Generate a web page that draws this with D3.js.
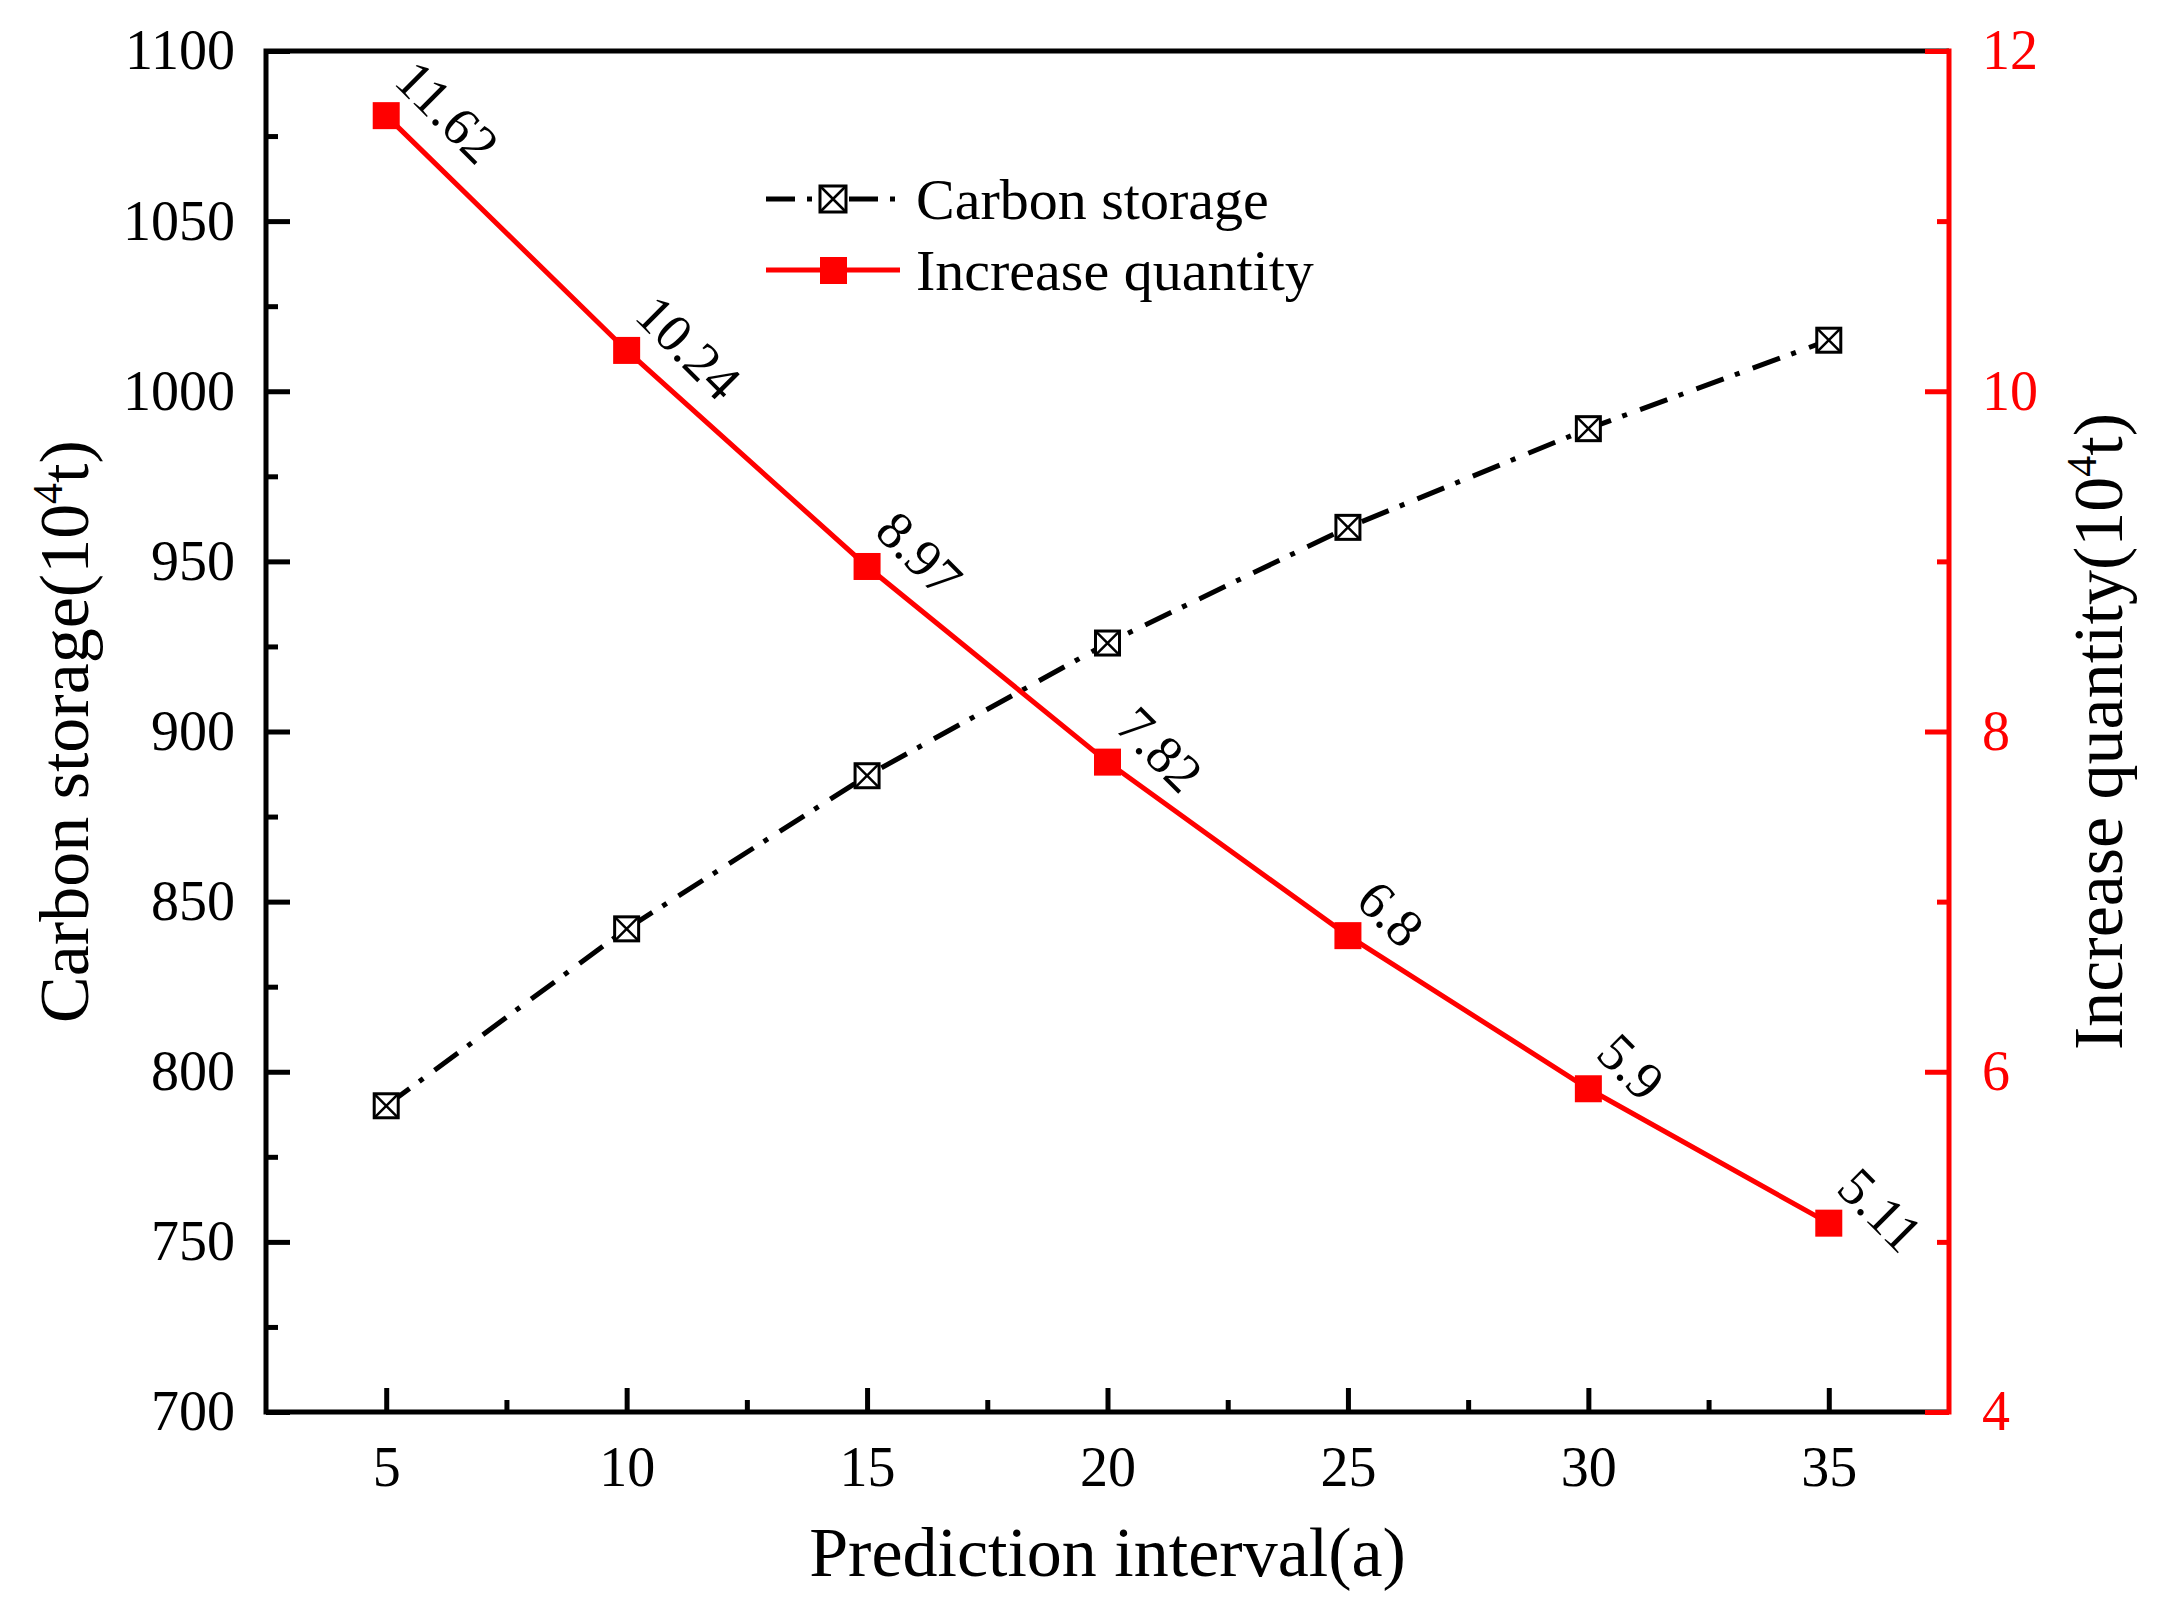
<!DOCTYPE html>
<html>
<head>
<meta charset="utf-8">
<script src="https://cdn.jsdelivr.net/npm/d3@7"></script>
<style>
  body { margin: 0; background: #fff; }
  svg text { font-family: "Times New Roman", "Liberation Serif", "DejaVu Serif", serif !important; }
</style>
</head>
<body>
<svg id="chart" width="2162" height="1612"></svg>
<script>
// chart values
var years = [5, 10, 15, 20, 25, 30, 35];
var carbonStorage = [790, 842, 887, 926, 960, 989, 1015];
var increaseQty = [11.62, 10.24, 8.97, 7.82, 6.8, 5.9, 5.11];
var xTicks = [5, 10, 15, 20, 25, 30, 35];
var xMinor = [7.5, 12.5, 17.5, 22.5, 27.5, 32.5];
var leftTicks = [700, 750, 800, 850, 900, 950, 1000, 1050, 1100];
var leftMinor = [725, 775, 825, 875, 925, 975, 1025, 1075];
var rightTicks = [4, 6, 8, 10, 12];
var rightMinor = [5, 7, 9, 11];

// plot box (note: "top" is reserved on window, so use p* names)
var pLeft = 266, pRight = 1949, pTop = 51, pBottom = 1412;
var serif = "'Times New Roman', 'Liberation Serif', 'DejaVu Serif', serif";

var svg = d3.select("#chart").attr("font-family", serif);

var x = d3.scaleLinear().domain([2.5, 37.5]).range([pLeft, pRight]);
var yL = d3.scaleLinear().domain([700, 1100]).range([pBottom, pTop]);
var yR = d3.scaleLinear().domain([4, 12]).range([pBottom, pTop]);

// axes, ticks pointing inside the plot
function styleAxis(g, color, fs) {
  g.attr("font-family", serif);
  g.select(".domain").remove();
  g.selectAll("line").attr("stroke", color).attr("stroke-width", 5);
  g.selectAll("text").attr("fill", color).style("font-size", fs + "px");
}

svg.append("g")
  .attr("transform", "translate(" + pLeft + ",0)")
  .call(d3.axisLeft(yL).tickValues(leftTicks).tickSize(-24).tickPadding(31).tickFormat(d3.format("d")))
  .call(function(g) { styleAxis(g, "#000", 56); });
svg.append("g")
  .attr("transform", "translate(" + pLeft + ",0)")
  .call(d3.axisLeft(yL).tickValues(leftMinor).tickSize(-12).tickFormat(""))
  .call(function(g) { styleAxis(g, "#000", 56); });

svg.append("g")
  .attr("transform", "translate(0," + pBottom + ")")
  .call(d3.axisBottom(x).tickValues(xTicks).tickSize(-24).tickPadding(34).tickFormat(d3.format("d")))
  .call(function(g) { styleAxis(g, "#000", 56); });
svg.append("g")
  .attr("transform", "translate(0," + pBottom + ")")
  .call(d3.axisBottom(x).tickValues(xMinor).tickSize(-12).tickFormat(""))
  .call(function(g) { styleAxis(g, "#000", 56); });

// frame: left, bottom, top in black
svg.append("path")
  .attr("d", "M" + pRight + "," + pTop + "H" + pLeft + "V" + pBottom + "H" + pRight)
  .attr("fill", "none").attr("stroke", "#000").attr("stroke-width", 5);

// right axis in red
svg.append("g")
  .attr("transform", "translate(" + pRight + ",0)")
  .call(d3.axisRight(yR).tickValues(rightTicks).tickSize(-24).tickPadding(33).tickFormat(d3.format("d")))
  .call(function(g) { styleAxis(g, "#ff0000", 56); });
svg.append("g")
  .attr("transform", "translate(" + pRight + ",0)")
  .call(d3.axisRight(yR).tickValues(rightMinor).tickSize(-12).tickFormat(""))
  .call(function(g) { styleAxis(g, "#ff0000", 56); });
svg.append("line")
  .attr("x1", pRight).attr("x2", pRight).attr("y1", pTop - 2.5).attr("y2", pBottom + 2.5)
  .attr("stroke", "#ff0000").attr("stroke-width", 5);

// axis titles
svg.append("text")
  .attr("x", (pLeft + pRight) / 2).attr("y", 1576)
  .attr("text-anchor", "middle").style("font-size", "70px")
  .text("Prediction interval(a)");

var tl = svg.append("text")
  .attr("transform", "translate(88," + (pTop + pBottom) / 2 + ") rotate(-90)")
  .attr("text-anchor", "middle").style("font-size", "70px");
tl.append("tspan").text("Carbon storage(10");
tl.append("tspan").attr("dy", -26).style("font-size", "42px").text("4");
tl.append("tspan").attr("dy", 26).text("t)");

var tr = svg.append("text")
  .attr("transform", "translate(2122," + (pTop + pBottom) / 2 + ") rotate(-90)")
  .attr("text-anchor", "middle").style("font-size", "70px");
tr.append("tspan").text("Increase quantity(10");
tr.append("tspan").attr("dy", -26).style("font-size", "42px").text("4");
tr.append("tspan").attr("dy", 26).text("t)");

// carbon storage series: dash-dot line, crossed squares
var lineL = d3.line()
  .x(function(d, i) { return x(years[i]); })
  .y(function(d) { return yL(d); });
var dashDot = "29,12,5,14";

svg.append("path")
  .datum(carbonStorage)
  .attr("d", lineL)
  .attr("fill", "none").attr("stroke", "#000").attr("stroke-width", 5)
  .attr("stroke-dasharray", dashDot);

function crossBox(g, cx, cy, s) {
  var h = s / 2;
  g.append("rect").attr("x", cx - h).attr("y", cy - h).attr("width", s).attr("height", s)
    .attr("fill", "#fff").attr("stroke", "#000").attr("stroke-width", 3);
  g.append("path")
    .attr("d", "M" + (cx - h) + "," + (cy - h) + "L" + (cx + h) + "," + (cy + h) +
               "M" + (cx + h) + "," + (cy - h) + "L" + (cx - h) + "," + (cy + h))
    .attr("stroke", "#000").attr("stroke-width", 2.5);
}

var ptsL = svg.append("g");
carbonStorage.forEach(function(d, i) { crossBox(ptsL, x(years[i]), yL(d), 24); });

// increase quantity series: solid red line, filled squares, rotated labels
var lineR = d3.line()
  .x(function(d, i) { return x(years[i]); })
  .y(function(d) { return yR(d); });

svg.append("path")
  .datum(increaseQty)
  .attr("d", lineR)
  .attr("fill", "none").attr("stroke", "#ff0000").attr("stroke-width", 5);

svg.append("g").selectAll("rect")
  .data(increaseQty)
  .enter().append("rect")
  .attr("x", function(d, i) { return x(years[i]) - 13.5; })
  .attr("y", function(d) { return yR(d) - 13.5; })
  .attr("width", 27).attr("height", 27)
  .attr("fill", "#ff0000");

svg.append("g").selectAll("text")
  .data(increaseQty)
  .enter().append("text")
  .attr("transform", function(d, i) {
    return "translate(" + (x(years[i]) + 6) + "," + (yR(d) - 33) + ") rotate(45)";
  })
  .style("font-size", "54px")
  .text(function(d) { return d; });

// legend
var lg = svg.append("g");
lg.append("line").attr("x1", 766).attr("x2", 820).attr("y1", 199).attr("y2", 199)
  .attr("stroke", "#000").attr("stroke-width", 5).attr("stroke-dasharray", dashDot);
lg.append("line").attr("x1", 849).attr("x2", 900).attr("y1", 199).attr("y2", 199)
  .attr("stroke", "#000").attr("stroke-width", 5).attr("stroke-dasharray", dashDot);
crossBox(lg, 833, 199, 26);
lg.append("text").attr("x", 916).attr("y", 199).attr("dy", "0.35em")
  .style("font-size", "58px").text("Carbon storage");

lg.append("line").attr("x1", 766).attr("x2", 900).attr("y1", 270).attr("y2", 270)
  .attr("stroke", "#ff0000").attr("stroke-width", 5);
lg.append("rect").attr("x", 820).attr("y", 257).attr("width", 27).attr("height", 27)
  .attr("fill", "#ff0000");
lg.append("text").attr("x", 916).attr("y", 270).attr("dy", "0.35em")
  .style("font-size", "58px").text("Increase quantity");
</script>
</body>
</html>
